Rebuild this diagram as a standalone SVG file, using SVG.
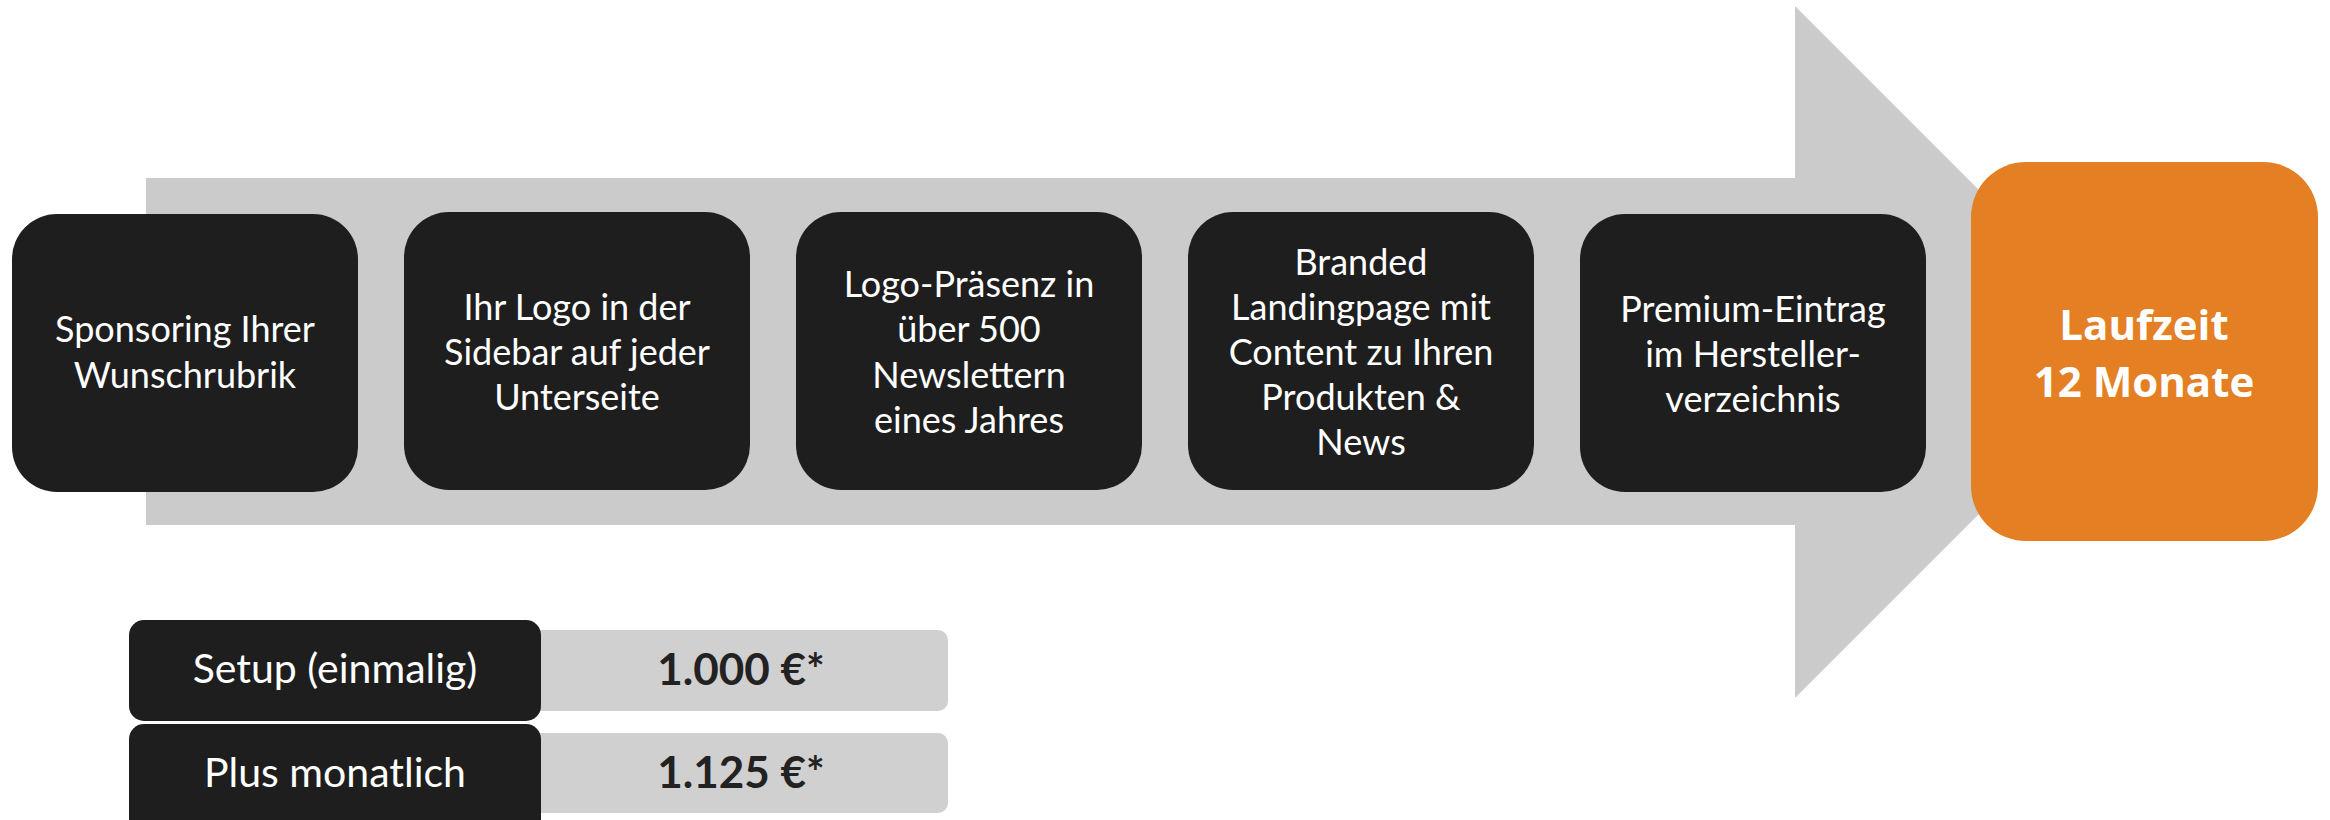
<svg xmlns="http://www.w3.org/2000/svg" width="2330" height="820" viewBox="0 0 2330 820">
<style>
.box{fill:#1e1e1e}
.t{font-family:Lato,"Source Sans Pro","Noto Sans",sans-serif;font-size:36px;fill:#ffffff;text-anchor:middle}
.ob{fill:#e47f24}
.ot{font-family:"Open Sans","Noto Sans",sans-serif;font-size:42px;font-weight:700;fill:#ffffff;text-anchor:middle}
.pb{fill:#d0d0d0}
.pt{font-family:Lato,"Noto Sans",sans-serif;font-size:44px;font-weight:700;fill:#222222;text-anchor:middle}
.lt{font-family:Lato,"Noto Sans",sans-serif;font-size:41px;fill:#ffffff;text-anchor:middle}
</style>
<g id="connectors">
<polygon id="arrow" points="146,178 1795,178 1795,6 2141,352 1795,698 1795,525 146,525" fill="#cbcbcb"/>
</g>
<g id="n1"><rect class="box" x="12" y="214" width="346" height="278" rx="45"/>
<text class="t" x="185" y="342">Sponsoring Ihrer</text><text class="t" x="185" y="388">Wunschrubrik</text></g>
<g id="n2"><rect class="box" x="404" y="212" width="346" height="278" rx="45"/>
<text class="t" x="577" y="320">Ihr Logo in der</text><text class="t" x="577" y="365">Sidebar auf jeder</text><text class="t" x="577" y="410">Unterseite</text></g>
<g id="n3"><rect class="box" x="796" y="212" width="346" height="278" rx="45"/>
<text class="t" x="969" y="297">Logo-Präsenz in</text><text class="t" x="969" y="342">über 500</text><text class="t" x="969" y="388">Newslettern</text><text class="t" x="969" y="433">eines Jahres</text></g>
<g id="n4"><rect class="box" x="1188" y="212" width="346" height="278" rx="45"/>
<text class="t" x="1361" y="275">Branded</text><text class="t" x="1361" y="320">Landingpage mit</text><text class="t" x="1361" y="365">Content zu Ihren</text><text class="t" x="1361" y="410">Produkten &amp;</text><text class="t" x="1361" y="455">News</text></g>
<g id="n5"><rect class="box" x="1580" y="214" width="346" height="278" rx="45"/>
<text class="t" x="1753" y="322">Premium-Eintrag</text><text class="t" x="1753" y="367">im Hersteller-</text><text class="t" x="1753" y="412">verzeichnis</text></g>
<g id="n6"><rect class="ob" x="1971" y="162" width="347" height="379" rx="55"/>
<text class="ot" x="2144" y="340">Laufzeit</text><text class="ot" x="2144" y="397">12 Monate</text></g>
<g id="p1"><rect class="pb" x="530" y="630" width="418" height="81" rx="10"/>
<rect class="box" x="129" y="620" width="412" height="101" rx="15"/>
<text class="lt" x="335" y="683">Setup (einmalig)</text>
<text class="pt" x="741" y="685">1.000 €*</text></g>
<g id="p2"><rect class="pb" x="530" y="733" width="418" height="80" rx="10"/>
<rect class="box" x="129" y="724" width="412" height="110" rx="15"/>
<text class="lt" x="335" y="787">Plus monatlich</text>
<text class="pt" x="741" y="788">1.125 €*</text></g>
</svg>
